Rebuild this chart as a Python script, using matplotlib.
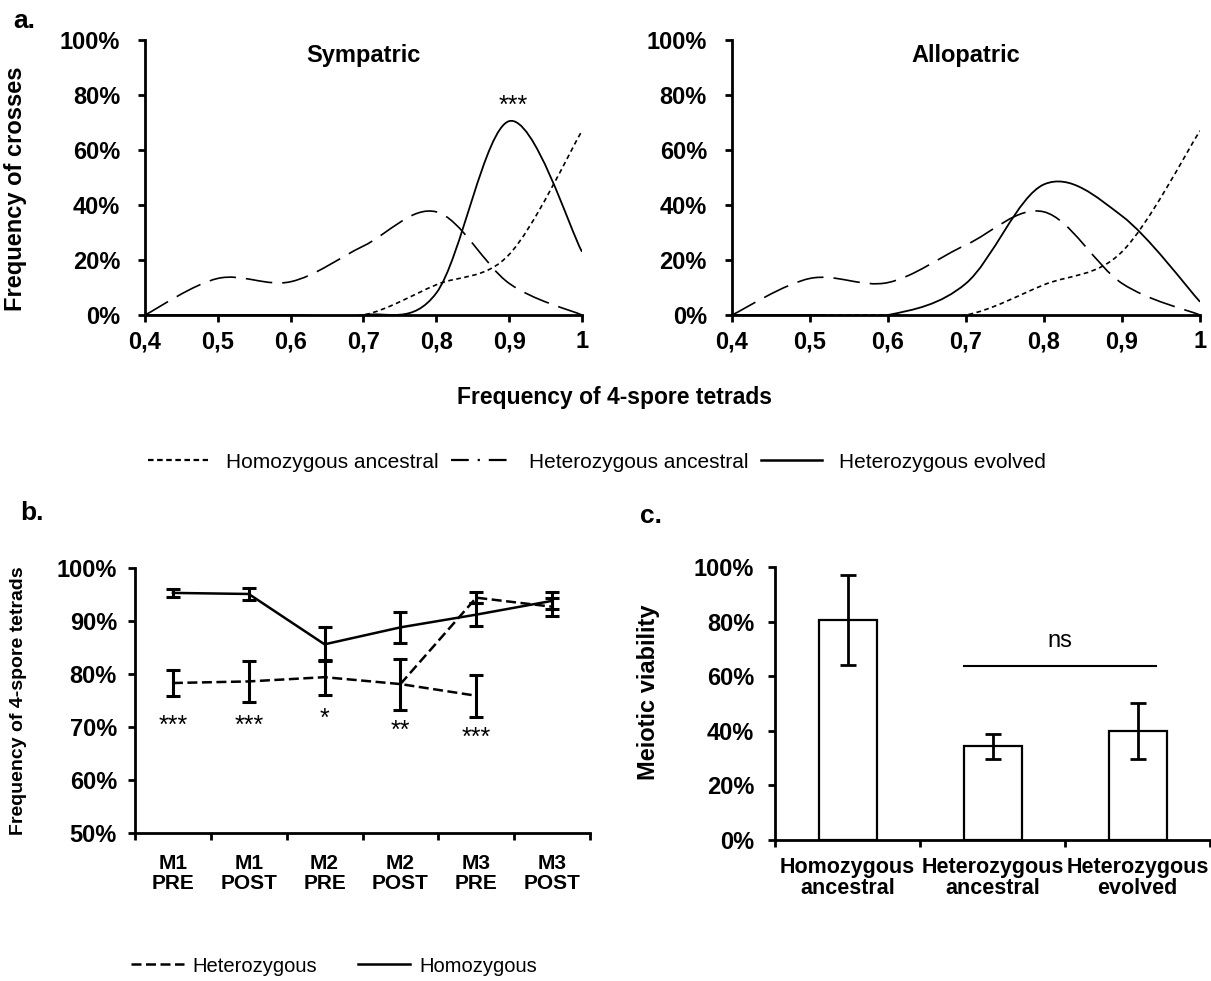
import numpy as np
import matplotlib
matplotlib.use("Agg")
import matplotlib.pyplot as plt
from matplotlib.path import Path
from matplotlib.patches import PathPatch
from matplotlib.lines import Line2D

plt.rcParams['font.family'] = ['Liberation Sans', 'DejaVu Sans']

# ---- data (panel a) : frequency of crosses (%) vs frequency of 4-spore tetrads
tetrad_freq = [0.4, 0.5, 0.6, 0.7, 0.8, 0.9, 1.0]
tetrad_labels = ['0,4', '0,5', '0,6', '0,7', '0,8', '0,9', '1']
sym_homo_anc = [0, 0, 0, 0, 11, 22, 67]
sym_het_anc = [0, 13.3, 12.1, 25.1, 37.5, 11.5, 0]
sym_het_evo = [0, 0, 0, 0, 8, 70.5, 23]
allo_homo_anc = [0, 0, 0, 0, 11, 23, 67]
allo_het_anc = [0, 13.3, 11.8, 25.5, 37.5, 11.5, 0]
allo_het_evo = [0, 0, 0, 11.5, 47.5, 36, 4.8]

# ---- data (panel b) : frequency of 4-spore tetrads (%)
timepoints = ['M1\nPRE', 'M1\nPOST', 'M2\nPRE', 'M2\nPOST', 'M3\nPRE', 'M3\nPOST']
homo_vals = [95.3, 95.1, 85.6, 88.8, 91.2, 93.8]
homo_err = [0.7, 1.1, 3.2, 2.9, 2.2, 1.6]
het_vals = [78.3, 78.6, 79.4, 78.1, 75.9]
het_err = [2.5, 3.8, 3.3, 4.8, 4.0]
het2_idx = [3, 4, 5]
het2_vals = [78.1, 94.4, 92.7]
het2_err = [0, 1.0, 1.7]
star_labels = ['***', '***', '*', '**', '***']
star_levels = [71.7, 71.7, 73.1, 70.7, 69.4]

# ---- data (panel c) : meiotic viability (%)
genotypes = ['Homozygous\nancestral', 'Heterozygous\nancestral', 'Heterozygous\nevolved']
viability = [80.6, 34.4, 39.9]
viability_err = [16.6, 4.6, 10.4]
ns_span = [0.8, 2.13]
ns_level = 63.7


def smooth_path(xs, ys):
    # Excel-like smoothed line: cubic bezier through the data points
    pts = np.column_stack([xs, ys]).astype(float)
    n = len(pts)
    verts = [pts[0]]
    codes = [Path.MOVETO]
    for i in range(n - 1):
        p0 = pts[max(i - 1, 0)]
        p1 = pts[i]
        p2 = pts[i + 1]
        p3 = pts[min(i + 2, n - 1)]
        verts += [p1 + (p2 - p0) / 6, p2 - (p3 - p1) / 6, p2]
        codes += [Path.CURVE4] * 3
    return Path(verts, codes)


DOT = (0, (2.8, 2.1))
LONG = (0, (16, 6))
SPINE_W = 2.0
TICK_FS = 17


def style_axes(ax):
    for s in ['top', 'right']:
        ax.spines[s].set_visible(False)
    for s in ['left', 'bottom']:
        ax.spines[s].set_linewidth(SPINE_W)
    ax.tick_params(which='both', direction='out', length=5, width=SPINE_W)
    for lab in ax.get_yticklabels():
        lab.set_fontweight('bold')
        lab.set_fontsize(TICK_FS)


fig = plt.figure(figsize=(12.11, 9.81), dpi=100)
W, H = 1211, 981

ax_sym = fig.add_axes([145 / W, 1 - 315 / H, 437 / W, 275 / H])
ax_allo = fig.add_axes([732 / W, 1 - 315 / H, 468 / W, 275 / H])

for ax, homo, het, evo, title in [
        (ax_sym, sym_homo_anc, sym_het_anc, sym_het_evo, 'Sympatric'),
        (ax_allo, allo_homo_anc, allo_het_anc, allo_het_evo, 'Allopatric')]:
    ax.add_patch(PathPatch(smooth_path(tetrad_freq, homo), fill=False, lw=1.2, ls=DOT, ec='black'))
    ax.add_patch(PathPatch(smooth_path(tetrad_freq, het), fill=False, lw=1.2, ls=LONG, ec='black'))
    ax.add_patch(PathPatch(smooth_path(tetrad_freq, evo), fill=False, lw=1.3, ec='black'))
    ax.set_xlim(0.4, 1.0)
    ax.set_ylim(0, 100)
    ax.set_xticks(tetrad_freq)
    ax.set_xticklabels(tetrad_labels, fontsize=TICK_FS, fontweight='bold')
    ax.set_yticks(range(0, 101, 20))
    ax.set_yticklabels([f'{v}%' for v in range(0, 101, 20)])
    style_axes(ax)
    ax.tick_params(axis='y', pad=13)
    ax.tick_params(axis='x', pad=6)
    ax.text(0.5, 0.945, title, transform=ax.transAxes, ha='center', va='center',
            fontsize=17, fontweight='bold')

ax_sym.text(0.905, 73.5, '***', ha='center', va='baseline', fontsize=18)
ax_sym.set_ylabel('Frequency of crosses', fontsize=17, fontweight='bold')
ax_sym.yaxis.set_label_coords(-0.27, 0.46)

fig.text(615 / W, 1 - 397 / H, 'Frequency of 4-spore tetrads', ha='center', va='center',
         fontsize=16.5, fontweight='bold')

handles_a = [Line2D([], [], color='black', lw=1.6, ls=(0, (2.5, 1.6))),
             Line2D([], [], color='black', lw=1.6, ls=(0, (8, 4, 1, 4))),
             Line2D([], [], color='black', lw=1.8)]
fig.legend(handles_a, ['Homozygous ancestral', 'Heterozygous ancestral', 'Heterozygous evolved'],
           loc='center', bbox_to_anchor=(597 / W, 1 - 462 / H), ncol=3, frameon=False,
           fontsize=15, handlelength=2.9, handletextpad=0.85, columnspacing=0.6)

# ---- panel b
ax_b = fig.add_axes([135 / W, 1 - 833 / H, 455 / W, 265 / H])
xb = np.arange(len(timepoints))
err_kw = dict(ecolor='black', elinewidth=2.2, capsize=5, capthick=2.2)
l_het, = ax_b.plot(xb[:len(het_vals)], het_vals, color='black', lw=1.8, ls=(0, (4, 1.8)))
ax_b.plot(het2_idx, het2_vals, color='black', lw=1.8, ls=(0, (4, 1.8)))
l_homo, = ax_b.plot(xb, homo_vals, color='black', lw=1.8)
ax_b.errorbar(xb, homo_vals, yerr=homo_err, fmt='none', **err_kw)
ax_b.errorbar(xb[:len(het_vals)], het_vals, yerr=het_err, fmt='none', **err_kw)
ax_b.errorbar(het2_idx[1:], het2_vals[1:], yerr=het2_err[1:], fmt='none', **err_kw)
for i, (s, lv) in enumerate(zip(star_labels, star_levels)):
    ax_b.text(i, lv - 2.8, s, ha='center', va='baseline', fontsize=18)
ax_b.set_xlim(-0.5, len(timepoints) - 0.5)
ax_b.set_ylim(50, 100)
ax_b.set_yticks(range(50, 101, 10))
ax_b.set_yticklabels([f'{v}%' for v in range(50, 101, 10)])
ax_b.set_xticks(xb)
ax_b.set_xticklabels(timepoints, fontsize=15, fontweight='bold', linespacing=1.05)
ax_b.set_xticks(np.arange(-0.5, len(timepoints)), minor=True)
style_axes(ax_b)
ax_b.tick_params(axis='x', which='major', length=0, pad=15)
ax_b.tick_params(axis='y', pad=8)
ax_b.set_ylabel('Frequency of 4-spore tetrads', fontsize=14, fontweight='bold')
ax_b.yaxis.set_label_coords(-0.237, 0.5)
fig.legend([l_het, l_homo], ['Heterozygous', 'Homozygous'], loc='center',
           bbox_to_anchor=(334 / W, 1 - 966 / H), ncol=2, frameon=False, fontsize=14.5,
           handlelength=2.6, handletextpad=0.45, columnspacing=2.0)

# ---- panel c
ax_c = fig.add_axes([775 / W, 1 - 840 / H, 435 / W, 273 / H])
xc = np.arange(len(genotypes))
ax_c.bar(xc, viability, width=0.4, color='white', edgecolor='black', linewidth=1.6,
         yerr=viability_err, capsize=6, error_kw=dict(elinewidth=2, capthick=2))
ax_c.plot(ns_span, [ns_level, ns_level], color='black', lw=1.5)
ax_c.text(np.mean(ns_span), ns_level + 7, 'ns', ha='center', va='baseline', fontsize=17)
ax_c.set_xlim(-0.5, len(genotypes) - 0.5)
ax_c.set_ylim(0, 100)
ax_c.set_yticks(range(0, 101, 20))
ax_c.set_yticklabels([f'{v}%' for v in range(0, 101, 20)])
ax_c.set_xticks(xc)
ax_c.set_xticklabels(genotypes, fontsize=15.5, fontweight='bold', linespacing=1.0)
ax_c.set_xticks(np.arange(-0.5, len(genotypes)), minor=True)
style_axes(ax_c)
ax_c.tick_params(axis='x', which='major', length=0, pad=12)
ax_c.tick_params(axis='y', pad=10)
ax_c.set_ylabel('Meiotic viability', fontsize=17, fontweight='bold')
ax_c.yaxis.set_label_coords(-0.264, 0.54)

# panel letters
fig.text(24 / W, 1 - 21 / H, 'a.', fontsize=19, fontweight='bold', ha='center', va='center')
fig.text(32 / W, 1 - 513 / H, 'b.', fontsize=19, fontweight='bold', ha='center', va='center')
fig.text(651 / W, 1 - 516 / H, 'c.', fontsize=19, fontweight='bold', ha='center', va='center')

fig.savefig('out.png', dpi=100)
